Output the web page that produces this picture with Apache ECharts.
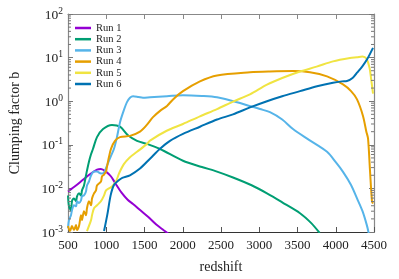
<!DOCTYPE html>
<html>
<head>
<meta charset="utf-8">
<script src="https://cdn.jsdelivr.net/npm/echarts@6/dist/echarts.min.js"></script>
<style>html,body{margin:0;padding:0;background:#fff}#c{width:399px;height:279px}</style>
</head>
<body>
<div id="c"></div>
<script>
const seriesNames = ['Run 1','Run 2','Run 3','Run 4','Run 5','Run 6'];
const seriesColors = ['#9400d3','#009e73','#56b4e9','#e69f00','#f0e442','#0072b2'];
const xTicks = [500,1000,1500,2000,2500,3000,3500,4000,4500];
const yTicks = [0.001,0.01,0.1,1,10,100];
const minorMultipliers = [2,3,4,5,6,7,8,9];
const minorDecades = [0.001,0.01,0.1,1,10];

const run1 = [[500,0.0085],[600,0.0115],[700,0.016],[800,0.022],[880,0.027],[930,0.028],[1000,0.024],[1060,0.019],[1120,0.013],[1200,0.008],[1280,0.0055],[1350,0.0044],[1450,0.0031],[1550,0.0022],[1650,0.0015],[1750,0.0011],[1810,0.00092]];
const run2 = [[500,0.0069],[513,0.0039],[539,0.0031],[552,0.0051],[578,0.0059],[605,0.0051],[618,0.0066],[644,0.0077],[670,0.0069],[683,0.009],[709,0.0117],[735,0.0197],[748,0.0256],[774,0.041],[800,0.06],[827,0.081],[879,0.15],[958,0.23],[1075,0.285],[1180,0.26],[1284,0.165],[1402,0.123],[1533,0.105],[1703,0.08],[2003,0.043],[2250,0.031],[2448,0.0243],[2657,0.0178],[2900,0.0118],[3101,0.0077],[3300,0.0048],[3533,0.0027],[3680,0.0016],[3790,0.00095]];
const run3 = [[500,0.00123],[513,0.00187],[539,0.00243],[552,0.00316],[578,0.0041],[605,0.0039],[618,0.0051],[644,0.0046],[670,0.0053],[683,0.0066],[709,0.0069],[735,0.0085],[748,0.0117],[774,0.0144],[801,0.0197],[840,0.0243],[879,0.0243],[931,0.0219],[971,0.0231],[1010,0.0333],[1062,0.056],[1101,0.081],[1140,0.15],[1180,0.33],[1230,0.62],[1271,0.95],[1310,1.2],[1350,1.3],[1420,1.25],[1480,1.2],[1572,1.23],[1794,1.3],[2003,1.37],[2250,1.32],[2448,1.23],[2710,0.95],[3010,0.66],[3140,0.56],[3300,0.38],[3441,0.23],[3650,0.13],[3886,0.069],[4000,0.04],[4095,0.024],[4200,0.012],[4278,0.0059],[4350,0.003],[4408,0.0014],[4430,0.00095]];
const run4 = [[500,0.00137],[526,0.00105],[552,0.00137],[578,0.00111],[605,0.00144],[618,0.00111],[644,0.00137],[670,0.00243],[683,0.00187],[709,0.003],[735,0.00243],[748,0.0035],[774,0.0051],[801,0.0041],[814,0.0059],[840,0.0077],[866,0.009],[879,0.0117],[931,0.0144],[944,0.0187],[971,0.0208],[997,0.0243],[1010,0.0316],[1036,0.053],[1062,0.081],[1114,0.123],[1180,0.15],[1310,0.16],[1441,0.2],[1533,0.29],[1611,0.43],[1703,0.6],[1794,0.78],[1873,1.1],[2003,1.7],[2225,2.85],[2448,3.9],[2879,4.6],[3140,4.8],[3441,4.9],[3663,4.6],[3886,3.7],[4095,2.43],[4200,1.7],[4278,1.1],[4356,0.46],[4400,0.2],[4422,0.14],[4448,0.025],[4474,0.005],[4487,0.0045]];
const run5 = [[748,0.00105],[801,0.00187],[814,0.00243],[840,0.0035],[879,0.0041],[931,0.0051],[971,0.0069],[997,0.009],[1036,0.01],[1075,0.0111],[1127,0.0144],[1167,0.022],[1230,0.036],[1300,0.05],[1402,0.069],[1533,0.105],[1572,0.125],[1790,0.21],[2003,0.3],[2225,0.45],[2448,0.66],[2657,0.98],[2879,1.44],[3101,2.4],[3300,3.4],[3533,4.8],[3750,6.2],[3964,8.2],[4186,9.8],[4278,10.2],[4350,10.6],[4400,9.5],[4440,6],[4465,3],[4487,1.5]];
const run6 = [[971,0.00105],[1014,0.0025],[1058,0.007],[1101,0.012],[1167,0.0155],[1210,0.0175],[1310,0.02],[1441,0.0285],[1572,0.048],[1703,0.081],[1833,0.123],[2003,0.178],[2225,0.26],[2448,0.38],[2657,0.5],[2879,0.72],[3101,1.0],[3300,1.3],[3533,1.7],[3755,2.2],[3964,2.66],[4080,2.85],[4147,2.9],[4220,3.4],[4278,4.5],[4350,6.4],[4408,9],[4487,16.7]];
const runs = [run1, run2, run3, run4, run5, run6];

const minorTicks = [];
minorDecades.forEach(d => minorMultipliers.forEach(m => minorTicks.push([500, +(d*m).toPrecision(3)])));

const FONT = 'Liberation Serif';
const chart = echarts.init(document.getElementById('c'), null, {renderer: 'canvas'});

const lineSeries = runs.map((r, i) => ({
  name: seriesNames[i],
  type: 'line',
  data: r,
  showSymbol: false,
  symbol: 'none',
  smooth: 0.3,
  clip: true,
  lineStyle: {width: 2, color: seriesColors[i]},
  itemStyle: {color: seriesColors[i]},
  z: 3 + i
}));

const minorSeries = {
  type: 'custom',
  silent: true,
  clip: false,
  data: minorTicks,
  encode: {x: 0, y: 1},
  z: 10,
  renderItem: function (params, api) {
    const p = api.coord([500, api.value(1)]);
    const q = api.coord([4500, api.value(1)]);
    return {
      type: 'group',
      children: [
        {type: 'line', shape: {x1: p[0], y1: p[1], x2: p[0] + 3, y2: p[1]}, style: {stroke: '#777', lineWidth: 1}},
        {type: 'line', shape: {x1: q[0], y1: q[1], x2: q[0] - 3, y2: q[1]}, style: {stroke: '#777', lineWidth: 1}}
      ]
    };
  }
};

chart.setOption({
  animation: false,
  backgroundColor: '#fff',
  grid: {left: 68, right: 25, top: 14, bottom: 45},
  legend: {
    orient: 'vertical',
    left: 75,
    top: 22.5,
    padding: 0,
    icon: 'rect',
    itemWidth: 16,
    itemHeight: 2.5,
    itemGap: 0.2,
    data: seriesNames,
    textStyle: {fontFamily: FONT, fontSize: 10.5, color: '#222', lineHeight: 11}
  },
  xAxis: [{
    type: 'value', min: 500, max: 4500, interval: 500,
    name: 'redshift', nameLocation: 'middle', nameGap: 28,
    nameTextStyle: {fontFamily: FONT, fontSize: 14, color: '#222'},
    axisLine: {lineStyle: {color: '#333', width: 1.2}},
    axisTick: {inside: true, length: 5, lineStyle: {color: '#555'}},
    axisLabel: {fontFamily: FONT, fontSize: 13, color: '#222', margin: 7, formatter: v => String(v)},
    splitLine: {show: false}
  }, {
    type: 'value', min: 500, max: 4500, interval: 500, position: 'top',
    axisLine: {lineStyle: {color: '#888', width: 1.2}},
    axisTick: {inside: true, length: 5, lineStyle: {color: '#888'}},
    axisLabel: {show: false},
    splitLine: {show: false}
  }],
  yAxis: [{
    type: 'log', logBase: 10, min: 0.001, max: 100,
    name: 'Clumping factor b', nameLocation: 'middle', nameGap: 46, nameRotate: 90,
    nameTextStyle: {fontFamily: FONT, fontSize: 14, color: '#222'},
    axisLine: {show: true, lineStyle: {color: '#888', width: 1.2}},
    axisTick: {inside: true, length: 5, lineStyle: {color: '#777'}},
    axisLabel: {
      margin: 5,
      formatter: function (v) {
        const e = Math.round(Math.log10(v));
        return '{b|10}{s|' + e + '}';
      },
      rich: {
        b: {fontFamily: FONT, fontSize: 13.5, color: '#222', lineHeight: 16, verticalAlign: 'bottom'},
        s: {fontFamily: FONT, fontSize: 9.5, color: '#222', lineHeight: 16, verticalAlign: 'top'}
      }
    },
    splitLine: {show: false}
  }, {
    type: 'log', logBase: 10, min: 0.001, max: 100, position: 'right',
    axisLine: {show: true, lineStyle: {color: '#888', width: 1.2}},
    axisTick: {inside: true, length: 5, lineStyle: {color: '#777'}},
    axisLabel: {show: false},
    splitLine: {show: false}
  }],
  series: lineSeries.concat([minorSeries])
});
</script>
</body>
</html>
